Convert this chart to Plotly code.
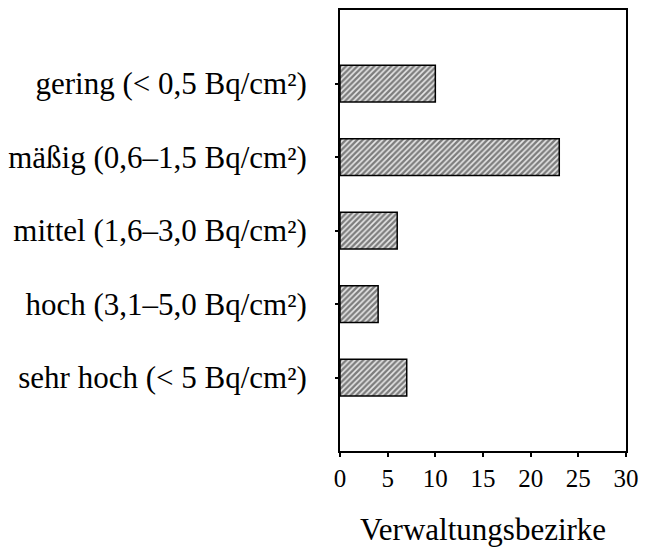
import plotly.graph_objects as go

categories = [
    "gering (< 0,5 Bq/cm²)",
    "mäßig (0,6–1,5 Bq/cm²)",
    "mittel (1,6–3,0 Bq/cm²)",
    "hoch (3,1–5,0 Bq/cm²)",
    "sehr hoch (< 5 Bq/cm²)",
]
values = [10, 23, 6, 4, 7]
positions = [1, 2, 3, 4, 5]
x_ticks = [0, 5, 10, 15, 20, 25, 30]
x_title = "Verwaltungsbezirke"

font = "Liberation Serif, Times New Roman, serif"

fig = go.Figure(
    go.Bar(
        x=values,
        y=positions,
        orientation="h",
        width=0.5,
        marker=dict(
            color="white",
            line=dict(color="black", width=1.5),
            pattern=dict(shape="/", fgcolor="#111111", bgcolor="#e8e8e8", size=4, solidity=0.6),
        ),
    )
)

fig.update_layout(
    width=647,
    height=549,
    margin=dict(l=340, r=8, t=10, b=95),
    paper_bgcolor="white",
    plot_bgcolor="white",
    showlegend=False,
    font=dict(family=font, color="black"),
    xaxis=dict(
        range=[0, 30],
        tickvals=x_ticks,
        ticktext=[str(v) for v in x_ticks],
        ticks="outside",
        ticklen=4,
        tickwidth=1.5,
        tickcolor="black",
        ticklabeloverflow="allow",
        showline=True,
        linecolor="black",
        linewidth=2,
        mirror=True,
        showgrid=False,
        zeroline=False,
        tickfont=dict(family=font, size=25),
        title=dict(text=x_title, font=dict(family=font, size=31), standoff=27),
    ),
    yaxis=dict(
        range=[6, 0],
        tickvals=positions,
        ticktext=categories,
        ticks="outside",
        ticklen=3,
        tickwidth=1.5,
        tickcolor="black",
        ticklabelstandoff=22,
        showline=True,
        linecolor="black",
        linewidth=2,
        mirror=True,
        showgrid=False,
        zeroline=False,
        tickfont=dict(family=font, size=31),
    ),
)

fig.write_html(
    "out.html",
    config={"displayModeBar": False},
    post_script="document.body.style.margin='0';",
)
